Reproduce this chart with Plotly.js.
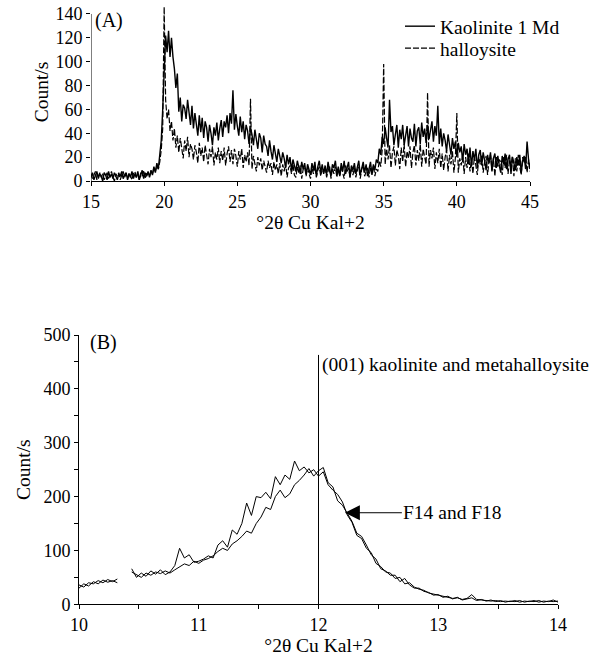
<!DOCTYPE html>
<html>
<head>
<meta charset="utf-8">
<script src="https://cdn.plot.ly/plotly-3.0.1.min.js"></script>
<style>
html,body{margin:0;padding:0;background:#fff;}
#chart{width:591px;height:659px;}
</style>
</head>
<body>
<div id="chart"></div>
<script>
// ---------- Panel A : scan 15–45 °2θ, step 0.1 ----------
const scanAStart = 15, scanAStep = 0.1;
const kaoliniteCounts = [
 3,7,1,5,8,2,6,4,0,7,
 5,1,8,3,6,2,7,4,1,6,
 4,8,2,5,7,1,6,3,8,2,
 6,3,8,1,5,9,2,7,4,8,
 3,9,5,12,7,15,10,20,34,60,
 96,122,108,126,104,120,104,94,78,90,
 58,70,50,64,61,52,68,55,47,63,
 44,57,49,38,55,41,53,36,50,45,
 33,47,40,30,45,38,49,34,44,51,
 37,50,45,55,40,57,48,76,43,56,
 46,38,54,41,50,35,47,42,31,45,
 39,30,43,34,27,40,36,24,38,31,
 29,21,34,25,18,30,23,16,27,22,
 15,24,19,11,22,14,20,9,18,13,
 8,17,12,6,16,10,15,5,14,9,
 5,15,9,16,4,12,17,7,14,6,
 13,5,16,9,4,14,11,17,6,12,
 4,15,8,17,6,11,16,3,13,9,
 15,6,12,17,5,10,16,7,14,4,
 12,16,5,14,9,18,15,27,22,37,
 31,45,36,28,68,41,46,30,39,47,
 28,43,35,47,30,40,46,29,44,36,
 33,48,29,42,45,31,49,37,44,32,
 47,35,41,50,33,46,38,63,31,44,
 29,40,34,25,39,30,22,36,27,33,
 20,32,24,29,16,31,22,27,14,28,
 12,25,18,27,11,22,26,13,24,17,
 9,22,15,24,8,19,23,11,21,13,
 7,21,14,23,10,18,22,6,20,15,
 9,20,13,22,7,17,21,10,33,18,
 10
];
const halloysiteCounts = [
 6,2,5,8,1,4,7,3,6,1,
 4,7,2,5,8,3,0,6,4,7,
 1,5,8,3,6,2,7,4,1,6,
 8,3,5,1,7,4,9,2,6,5,
 4,8,6,11,8,13,10,16,26,44,
 146,68,52,60,42,50,34,44,28,38,
 24,36,28,19,34,25,37,20,31,27,
 18,30,24,15,32,21,28,16,30,23,
 14,27,20,29,13,24,18,28,15,25,
 17,28,13,23,29,16,26,14,27,21,
 12,25,18,27,11,22,16,24,13,69,
 10,21,15,8,20,13,19,9,17,12,
 7,17,11,15,5,16,9,14,6,15,
 4,14,8,15,3,11,13,6,14,5,
 3,12,7,13,2,10,12,4,11,6,
 2,11,6,13,3,9,12,4,10,7,
 12,3,9,13,2,11,6,12,3,10,
 4,12,7,2,13,8,11,3,12,5,
 11,3,9,12,2,10,13,4,8,11,
 3,12,6,13,4,10,8,17,12,26,
 98,14,27,18,30,11,24,29,13,26,
 21,10,28,16,31,12,25,19,29,11,
 24,30,13,26,17,31,12,27,20,14,
 74,12,26,19,28,10,24,15,27,11,
 23,9,20,26,8,22,14,25,7,19,
 57,7,19,13,22,6,20,11,23,8,
 18,6,21,12,5,20,14,22,7,16,
 21,5,17,22,9,19,4,20,12,18,
 16,5,20,11,22,6,18,13,21,4,
 19,8,22,12,5,20,15,21,7,18,
 8
];

// ---------- Panel B : scan 10–14 °2θ, step 0.04 ----------
const scanBStart = 10, scanBStep = 0.04;
const f14Counts = [
 36,32,40,38,44,40,46,42,47,null,
 null,66,50,58,52,62,56,64,55,60,
 72,104,86,92,78,80,84,90,86,110,
 118,106,138,130,150,188,165,200,198,208,
 196,237,222,240,232,266,248,255,244,250,
 238,246,222,212,204,190,166,152,128,122,
 104,96,76,70,60,58,48,50,38,40,
 32,28,26,21,19,17,14,13,11,12,
 9,11,18,9,8,7,6,7,5,6,
 5,7,4,6,5,7,4,6,5,8,
 4
];
const f18Counts = [
 30,38,34,42,38,45,41,44,40,null,
 null,60,55,50,58,54,60,57,62,58,
 64,70,75,72,80,76,82,85,90,98,
 104,100,112,118,126,136,132,150,162,180,
 176,200,212,198,205,222,230,240,252,238,
 248,254,226,218,192,184,168,154,132,126,
 110,92,84,66,62,54,54,42,48,36,
 30,30,24,22,17,18,13,15,10,13,
 8,10,12,7,9,6,8,5,7,4,
 6,5,7,4,6,5,7,4,6,5,
 6
];

// reference marker (001) and labels
const peak001 = 12, peak001Top = 463;
const xTitle = "°2θ Cu Kal+2";
const yTitle = "Count/s";
const seriesNamesA = ["Kaolinite 1 Md", "halloysite"];
const panelAYTop = 140;

function grid(start, step, n) {
  const a = [];
  for (let i = 0; i < n; i++) a.push(+(start + i * step).toFixed(3));
  return a;
}
const angleA = grid(scanAStart, scanAStep, kaoliniteCounts.length);
const angleB = grid(scanBStart, scanBStep, f14Counts.length);

const FONT = "Liberation Serif";
const TXT = 19.5;
const black = "#000";

const traces = [
  {x: angleA, y: kaoliniteCounts, type: "scatter", mode: "lines", name: seriesNamesA[0],
   line: {color: black, width: 1.4}, xaxis: "x", yaxis: "y", legend: "legend"},
  {x: angleA, y: halloysiteCounts, type: "scatter", mode: "lines", name: seriesNamesA[1],
   line: {color: black, width: 1.2, dash: "6px,2px"}, xaxis: "x", yaxis: "y", legend: "legend2"},
  {x: angleB, y: f14Counts, type: "scatter", mode: "lines", name: "F14", showlegend: false,
   line: {color: black, width: 1}, xaxis: "x2", yaxis: "y2"},
  {x: angleB, y: f18Counts, type: "scatter", mode: "lines", name: "F18", showlegend: false,
   line: {color: black, width: 1}, xaxis: "x2", yaxis: "y2"}
];

const W = 591, H = 659;
const px = v => v / W, py = v => 1 - v / H;

const axisCommon = {
  showgrid: false, zeroline: false, color: black,
  ticks: "outside", ticklen: 4, tickwidth: 1, tickcolor: black,
  tickfont: {family: FONT, size: 18, color: black},
  linecolor: black, linewidth: 1
};
const legendCommon = {xanchor: "left", yanchor: "top", bgcolor: "rgba(0,0,0,0)",
  font: {family: FONT, size: TXT, color: black}, itemwidth: 30};

const layout = {
  width: W, height: H,
  margin: {l: 0, r: 0, t: 0, b: 0},
  paper_bgcolor: "#fff", plot_bgcolor: "#fff",
  font: {family: FONT, size: TXT, color: black},
  showlegend: true,
  legend: Object.assign({x: px(400), y: py(7)}, legendCommon),
  legend2: Object.assign({x: px(400), y: py(29)}, legendCommon),
  xaxis: Object.assign({}, axisCommon, {
    domain: [px(91), px(530)], range: [15, 45], dtick: 5, tick0: 15,
    showline: true, anchor: "y",
    title: {text: xTitle, font: {family: FONT, size: TXT}, standoff: 2}
  }),
  yaxis: Object.assign({}, axisCommon, {
    domain: [py(181), py(3)], range: [0, 149.2], dtick: 20, tick0: 0,
    showline: false, anchor: "x", ticklen: 4,
    title: {text: yTitle, font: {family: FONT, size: TXT}, standoff: 1}
  }),
  xaxis2: Object.assign({}, axisCommon, {
    domain: [px(79), px(558)], range: [10, 14], dtick: 1, tick0: 10,
    showline: true, anchor: "y2",
    minor: {dtick: 0.5, ticks: "outside", ticklen: 4, tickcolor: black, tickwidth: 1},
    title: {text: xTitle, font: {family: FONT, size: TXT}, standoff: 3}
  }),
  yaxis2: Object.assign({}, axisCommon, {
    domain: [py(604.3), py(335)], range: [0, 500], dtick: 100, tick0: 0,
    showline: true, anchor: "x2",
    minor: {dtick: 50, ticks: "outside", ticklen: 4, tickcolor: black, tickwidth: 1},
    title: {text: yTitle, font: {family: FONT, size: TXT}, standoff: 7}
  }),
  shapes: [
    {type: "line", xref: "x", yref: "y", x0: 15, x1: 15, y0: 0, y1: panelAYTop,
     line: {color: black, width: 1}},
    {type: "line", xref: "x2", yref: "y2", x0: peak001, x1: peak001, y0: 0, y1: peak001Top,
     line: {color: black, width: 1}}
  ],
  annotations: [
    {text: "(A)", xref: "paper", yref: "paper", x: px(93), y: py(21),
     xanchor: "left", yanchor: "middle", showarrow: false, font: {family: FONT, size: 20}},
    {text: "(B)", xref: "paper", yref: "paper", x: px(88), y: py(342),
     xanchor: "left", yanchor: "middle", showarrow: false, font: {family: FONT, size: 20}},
    {text: "(001) kaolinite and metahalloysite", xref: "x2", yref: "y2", x: 12.01, y: 444,
     xanchor: "left", yanchor: "middle", showarrow: false, font: {family: FONT, size: TXT}},
    {text: "F14 and F18", xref: "x2", yref: "y2", x: 12.22, y: 170,
     showarrow: true, arrowhead: 2, arrowsize: 3, arrowwidth: 1, arrowcolor: black,
     ax: 108, ay: 0, xanchor: "center", font: {family: FONT, size: TXT}}
  ]
};

Plotly.newPlot("chart", traces, layout, {staticPlot: true, displayModeBar: false});
</script>
</body>
</html>
